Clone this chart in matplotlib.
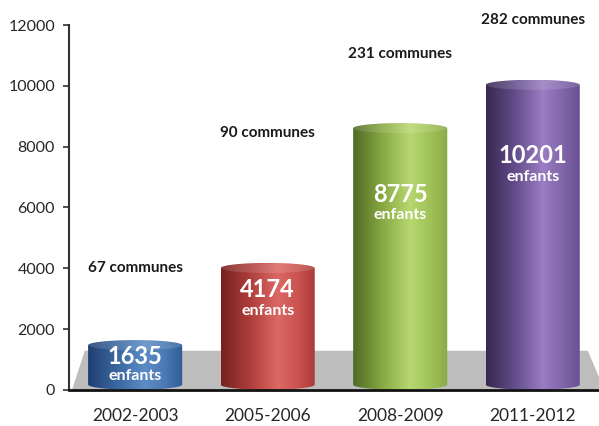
import numpy as np
import matplotlib
matplotlib.use('Agg')
import matplotlib.pyplot as plt
from matplotlib.path import Path
from matplotlib.patches import PathPatch, Polygon, Ellipse
from matplotlib.colors import LinearSegmentedColormap

plt.rcParams['font.family'] = ['Lato', 'DejaVu Sans']

# data
periods = ['2002-2003', '2005-2006', '2008-2009', '2011-2012']
enfants = [1635, 4174, 8775, 10201]
communes = [67, 90, 231, 282]

# label heights, placed by hand in the original
commune_label_y = [4000, 8450, 11050, 12170]
number_label_y = [1101, 3304, 6427, 7710]
enfants_label_y = [460, 2597, 5753, 7003]

# cylinder shading: dark edge, mid, highlight, mid, right edge
shades = [
    ['#203f72', '#3b66a0', '#5c8cc6', '#4a78b2', '#315c96'],
    ['#75211f', '#ad3d3b', '#dc6864', '#c9524f', '#a83a38'],
    ['#4f6a24', '#86a742', '#b8d770', '#a0c158', '#8aab48'],
    ['#372850', '#634c8a', '#9a7dc2', '#7f64a8', '#67508f'],
]

fig = plt.figure(figsize=(5.99, 4.26), dpi=100)
ax = fig.add_axes([0.115, 0.085, 0.885, 0.856])
ax.set_xlim(-0.5, 3.5)
ax.set_ylim(0, 12000)

# grey floor behind the bars
floor = Polygon([(0.006, 0), (0.030, 0.107), (0.979, 0.107), (1.01, 0)],
                closed=True, transform=ax.transAxes, facecolor='#bdbdbd',
                edgecolor='none', zorder=0.5, clip_on=False)
ax.add_patch(floor)

w = 0.71
e = 170  # ellipse half height in data units
grad = np.linspace(0, 1, 256).reshape(1, -1)

for i, (v, cols) in enumerate(zip(enfants, shades)):
    x0, x1 = i - w / 2, i + w / 2
    t = np.linspace(np.pi, 0, 40)
    top = np.column_stack([i + w / 2 * np.cos(t), v - e + e * np.sin(t)])
    t2 = np.linspace(0, -np.pi, 40)
    bot = np.column_stack([i + w / 2 * np.cos(t2), e + e * np.sin(t2)])
    pts = np.vstack([[x0, e], top, bot, [x0, e]])
    outline = PathPatch(Path(pts), facecolor='none', edgecolor='none',
                        transform=ax.transData)
    ax.add_patch(outline)
    cmap = LinearSegmentedColormap.from_list(
        'c%d' % i, list(zip([0, 0.3, 0.6, 0.82, 1.0], cols)))
    im = ax.imshow(grad, cmap=cmap, extent=[x0, x1, 0, v], aspect='auto',
                   zorder=2, interpolation='bilinear')
    im.set_clip_path(outline)
    # top face
    ax.add_patch(Ellipse((i, v - e), w * 0.99, 2 * e * 0.95, facecolor='white',
                         alpha=0.13, edgecolor='none', zorder=3))
    ax.text(i, number_label_y[i], str(v), ha='center', va='center',
            color='white', fontsize=17, fontweight='bold', zorder=4)
    ax.text(i, enfants_label_y[i], 'enfants', ha='center', va='center',
            color='white', fontsize=11.5, fontweight='bold', zorder=4)
    ax.text(i, commune_label_y[i], '%d communes' % communes[i], ha='center',
            va='center', color='#1a1a1a', fontsize=11, fontweight='bold',
            zorder=4, clip_on=False)

ax.set_xticks(range(len(periods)))
ax.set_xticklabels(periods, fontsize=12.5, color='#262626')
ax.tick_params(axis='x', length=0, pad=13)
ax.set_yticks(np.arange(0, 12001, 2000))
ax.tick_params(axis='y', labelsize=11.5, labelcolor='#262626', length=4,
               width=1.2, direction='out', color='#333333', pad=6)

for s in ['top', 'right']:
    ax.spines[s].set_visible(False)
ax.spines['left'].set_color('#333333')
ax.spines['left'].set_linewidth(1.5)
ax.spines['bottom'].set_color('#111111')
ax.spines['bottom'].set_linewidth(2)
ax.spines['bottom'].set_zorder(5)

fig.savefig('out.png', dpi=100)
